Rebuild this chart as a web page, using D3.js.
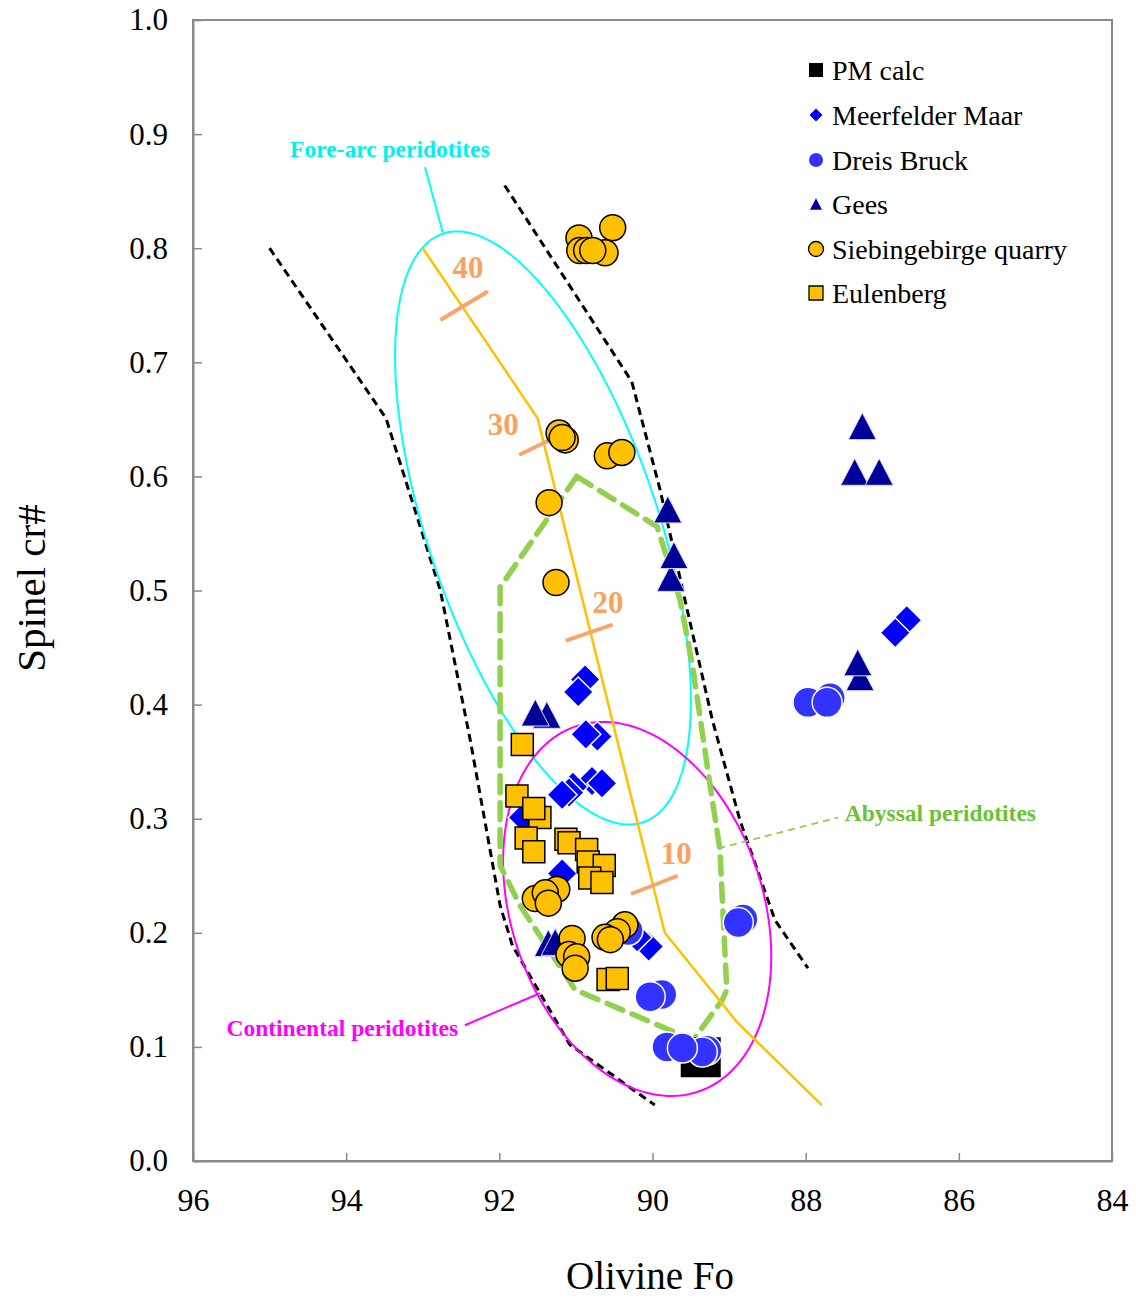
<!DOCTYPE html>
<html><head><meta charset="utf-8">
<script src="https://cdn.jsdelivr.net/npm/d3@7"></script>
<style>body{margin:0;background:#fff}svg{display:block}</style>
</head><body>
<svg id="c" width="1136" height="1299"></svg>
<script>
// ---------- axis ticks ----------
const xTicks = [96, 94, 92, 90, 88, 86, 84];
const yTicks = [0, 0.1, 0.2, 0.3, 0.4, 0.5, 0.6, 0.7, 0.8, 0.9, 1.0];
const yTickLabels = ["0.0","0.1","0.2","0.3","0.4","0.5","0.6","0.7","0.8","0.9","1.0"];

// ---------- series (olivine Fo, spinel cr#) ----------
const seriesNames = ["PM calc","Meerfelder Maar","Dreis Bruck","Gees","Siebingebirge quarry","Eulenberg"];
const pmFo = [89.37];
const pmCr = [0.091];
const meerFo = [90.88, 90.97, 90.72, 90.87, 91.69, 90.79, 90.66, 91.04, 91.09, 91.18, 91.18, 90.05, 90.20, 86.68, 86.83];
const meerCr = [0.422, 0.411, 0.372, 0.374, 0.301, 0.333, 0.331, 0.328, 0.323, 0.321, 0.252, 0.188, 0.196, 0.474, 0.463];
const dreFo = [87.68, 87.97, 87.72, 88.82, 88.88, 89.88, 90.03, 89.29, 89.35, 89.81, 89.61, 90.32];
const dreCr = [0.406, 0.402, 0.402, 0.212, 0.209, 0.146, 0.144, 0.097, 0.0955, 0.100, 0.099, 0.202];
const geesFo = [87.26, 87.36, 87.04, 89.80, 89.76, 89.72, 91.38, 91.53, 87.29, 87.32, 91.36, 91.27];
const geesCr = [0.644, 0.604, 0.604, 0.571, 0.511, 0.531, 0.391, 0.393, 0.424, 0.437, 0.191, 0.192];
const sieFo = [90.52, 90.96, 90.62, 90.95, 90.86, 90.78, 91.22, 91.14, 91.18, 90.59, 90.40, 91.35, 91.26, 91.25, 91.53, 91.40, 91.36, 91.05, 91.09, 90.99, 91.01, 90.36, 90.46, 90.62, 90.55];
const sieCr = [0.818, 0.809, 0.796, 0.798, 0.798, 0.798, 0.638, 0.632, 0.634, 0.618, 0.621, 0.577, 0.507, 0.238, 0.230, 0.235, 0.226, 0.195, 0.181, 0.179, 0.169, 0.207, 0.201, 0.196, 0.194];
const eulFo = [91.70, 91.77, 91.47, 91.55, 91.65, 91.55, 91.13, 91.09, 90.86, 90.84, 90.63, 90.82, 90.66, 90.58, 90.46];
const eulCr = [0.365, 0.320, 0.301, 0.309, 0.283, 0.271, 0.282, 0.279, 0.273, 0.262, 0.259, 0.248, 0.244, 0.159, 0.160];

// ---------- field boundaries & melting trend ----------
const leftBoundFo = [95.0, 93.48, 92.77, 92.38, 91.99, 91.83, 91.08, 89.97];
const leftBoundCr = [0.800, 0.651, 0.500, 0.369, 0.224, 0.189, 0.102, 0.049];
const rightBoundFo = [91.93, 90.27, 89.90, 89.54, 89.22, 88.86, 88.40, 87.97];
const rightBoundCr = [0.855, 0.683, 0.588, 0.481, 0.387, 0.299, 0.211, 0.169];
const meltFo = [93.0, 91.5, 89.84, 88.90, 87.79];
const meltCr = [0.800, 0.651, 0.200, 0.122, 0.049];
const meltTickLabels = ["40", "30", "20", "10"];
const meltTickFo = [[92.77, 92.15], [91.74, 91.09], [91.13, 90.52], [90.28, 89.67]];
const meltTickCr = [[0.737, 0.762], [0.619, 0.640], [0.456, 0.470], [0.234, 0.250]];
const meltLabelFo = [92.41, 91.95, 90.58, 89.69];
const meltLabelCr = [0.784, 0.646, 0.490, 0.270];
const abyssalFo = [90.99, 89.94, 89.64, 89.48, 89.25, 89.12, 89.03, 89.09, 89.47, 91.01, 91.73, 91.99, 91.99];
const abyssalCr = [0.600, 0.556, 0.492, 0.435, 0.330, 0.273, 0.150, 0.141, 0.106, 0.150, 0.224, 0.259, 0.503];
// ellipses: centre and two conjugate semi-axis vectors (in data units)
const foreArcEllipse = {fo: 91.43, cr: 0.5548, u: [-1.3085, -0.2579], v: [1.4207, -0.0324]};
const contEllipse = {fo: 90.20, cr: 0.2209, u: [-0.7939, -0.1602], v: [1.5604, -0.0348]};
const fieldLabels = ["Fore-arc peridotites", "Continental peridotites", "Abyssal peridotites"];
const fieldLabelFo = [93.43, 94.05, 87.49];
const fieldLabelCr = [0.887, 0.1166, 0.305];
const foreLeaderFo = [92.74, 92.97], foreLeaderCr = [0.814, 0.871];
const contLeaderFo = [91.47, 92.45], contLeaderCr = [0.147, 0.119];
const abyLeaderFo = [89.14, 87.58], abyLeaderCr = [0.274, 0.301];

// ---------- drawing ----------
const svg = d3.select("#c");
const x = d3.scaleLinear().domain([96, 84]).range([193, 1112]);
const y = d3.scaleLinear().domain([0, 1]).range([1161, 20]);
const serif = "'Liberation Serif','Times New Roman',serif";
const zip = (a, b) => a.map((v, i) => [v, b[i]]);
const line = d3.line().x(d => x(d[0])).y(d => y(d[1]));

// frame
svg.append("rect").attr("x", x(96)).attr("y", y(1)).attr("width", x(84) - x(96)).attr("height", y(0) - y(1))
  .attr("fill", "none").attr("stroke", "#8a8a8a").attr("stroke-width", 2);

// axes
const xAxis = d3.axisBottom(x).tickValues(xTicks).tickSizeInner(-8).tickSizeOuter(0).tickPadding(27).tickFormat(d3.format("d"));
const gx = svg.append("g").attr("transform", `translate(0,${y(0)})`).call(xAxis);
gx.select(".domain").attr("stroke", "#8a8a8a").attr("stroke-width", 2);
gx.selectAll(".tick line").attr("stroke", "#8a8a8a").attr("stroke-width", 1.5);
gx.selectAll(".tick text").attr("font-family", serif).attr("font-size", 32).attr("fill", "#000");

const yAxis = d3.axisLeft(y).tickValues(yTicks).tickSizeInner(-9).tickSizeOuter(0).tickPadding(25)
  .tickFormat((d, i) => yTickLabels[i]);
const gy = svg.append("g").attr("transform", `translate(${x(96)},0)`).call(yAxis);
gy.select(".domain").attr("stroke", "#8a8a8a").attr("stroke-width", 2);
gy.selectAll(".tick line").attr("stroke", "#8a8a8a").attr("stroke-width", 1.5);
gy.selectAll(".tick text").attr("font-family", serif).attr("font-size", 31).attr("fill", "#000");

// axis titles
svg.append("text").attr("x", 650).attr("y", 1289).attr("text-anchor", "middle")
  .attr("font-family", serif).attr("font-size", 39).text("Olivine Fo");
svg.append("text").attr("transform", "translate(45,588) rotate(-90)").attr("text-anchor", "middle")
  .attr("font-family", serif).attr("font-size", 41).text("Spinel cr#");

// boundaries
svg.append("path").attr("d", line(zip(leftBoundFo, leftBoundCr))).attr("fill", "none")
  .attr("stroke", "#000").attr("stroke-width", 3).attr("stroke-dasharray", "8,5");
svg.append("path").attr("d", line(zip(rightBoundFo, rightBoundCr))).attr("fill", "none")
  .attr("stroke", "#000").attr("stroke-width", 3).attr("stroke-dasharray", "8,5");

function ellipsePts(e) {
  const pts = [];
  for (let i = 0; i < 180; i++) {
    const t = i / 180 * 2 * Math.PI;
    pts.push([e.fo + e.u[0] * Math.cos(t) + e.v[0] * Math.sin(t), e.cr + e.u[1] * Math.cos(t) + e.v[1] * Math.sin(t)]);
  }
  return pts;
}
const closed = d3.line().x(d => x(d[0])).y(d => y(d[1])).curve(d3.curveLinearClosed);
svg.append("path").attr("d", closed(ellipsePts(foreArcEllipse))).attr("fill", "none").attr("stroke", "#00FFFF").attr("stroke-width", 2);
svg.append("path").attr("d", closed(ellipsePts(contEllipse))).attr("fill", "none").attr("stroke", "#FF00FF").attr("stroke-width", 2);

svg.append("path").attr("d", closed(zip(abyssalFo, abyssalCr))).attr("fill", "none")
  .attr("stroke", "#92D050").attr("stroke-width", 5.5).attr("stroke-dasharray", "17,10").attr("stroke-linecap", "round");

// leaders
svg.append("path").attr("d", line(zip(foreLeaderFo, foreLeaderCr))).attr("stroke", "#00FFFF").attr("stroke-width", 2);
svg.append("path").attr("d", line(zip(contLeaderFo, contLeaderCr))).attr("stroke", "#FF00FF").attr("stroke-width", 2);
svg.append("path").attr("d", line(zip(abyLeaderFo, abyLeaderCr))).attr("stroke", "#92D050").attr("stroke-width", 2).attr("stroke-dasharray", "7,5");

// melting trend
svg.append("path").attr("d", line(zip(meltFo, meltCr))).attr("fill", "none").attr("stroke", "#FFC000").attr("stroke-width", 2.5);
meltTickFo.forEach((f, i) => {
  svg.append("path").attr("d", line(zip(f, meltTickCr[i]))).attr("stroke", "#F9A56A").attr("stroke-width", 4);
  svg.append("text").attr("x", x(meltLabelFo[i])).attr("y", y(meltLabelCr[i])).attr("dy", "0.36em")
    .attr("text-anchor", "middle").attr("font-family", serif).attr("font-weight", "bold").attr("font-size", 31)
    .attr("fill", "#F9A25E").text(meltTickLabels[i]);
});

// field labels
const fieldColors = ["#00F0F0", "#FF00FF", "#6CC234"];
const fieldAnchor = ["middle", "middle", "start"];
fieldLabels.forEach((t, i) => {
  svg.append("text").attr("x", x(fieldLabelFo[i])).attr("y", y(fieldLabelCr[i])).attr("dy", "0.36em")
    .attr("text-anchor", fieldAnchor[i]).attr("font-family", serif).attr("font-weight", "bold").attr("font-size", 23.5)
    .attr("fill", fieldColors[i]).text(t);
});

// marker shapes
const shapes = {
  square: s => `M${-s/2},${-s/2}h${s}v${s}h${-s}Z`,
  diamond: s => `M0,${-s}L${s},0L0,${s}L${-s},0Z`,
  circle: r => `M${-r},0a${r},${r} 0 1,0 ${2*r},0a${r},${r} 0 1,0 ${-2*r},0Z`,
  triangle: s => `M0,${-s*0.48}L${s/2},${s*0.48}L${-s/2},${s*0.48}Z`
};
function drawSeries(fo, cr, shape, size, fill, stroke, sw) {
  svg.append("g").selectAll("path").data(zip(fo, cr)).join("path")
    .attr("transform", d => `translate(${x(d[0])},${y(d[1])})`)
    .attr("d", shapes[shape](size)).attr("fill", fill).attr("stroke", stroke).attr("stroke-width", sw);
}
drawSeries(pmFo, pmCr, "square", 40, "#000", "none", 0);
drawSeries(meerFo, meerCr, "diamond", 15, "#0000FF", "#fff", 1.5);
drawSeries(dreFo, dreCr, "circle", 15, "#3333FF", "#fff", 1.5);
drawSeries(geesFo, geesCr, "triangle", 28, "#000099", "#d8d8ff", 1);
drawSeries(sieFo, sieCr, "circle", 13, "#FFC000", "#000", 1.5);
drawSeries(eulFo, eulCr, "square", 22, "#FFC000", "#000", 1.5);

// legend
const legY = [70, 115, 160, 204, 249, 293];
const legShape = ["square", "diamond", "circle", "triangle", "circle", "square"];
const legSize = [14, 6.5, 7, 12, 7.5, 14];
const legFill = ["#000", "#0000FF", "#3333FF", "#000099", "#FFC000", "#FFC000"];
const legStroke = ["none", "none", "none", "none", "#000", "#000"];
seriesNames.forEach((n, i) => {
  svg.append("path").attr("transform", `translate(816,${legY[i]})`).attr("d", shapes[legShape[i]](legSize[i]))
    .attr("fill", legFill[i]).attr("stroke", legStroke[i]).attr("stroke-width", 1.3);
  svg.append("text").attr("x", 832).attr("y", legY[i]).attr("dy", "0.34em")
    .attr("font-family", serif).attr("font-size", 28).text(n);
});
</script>
</body></html>
